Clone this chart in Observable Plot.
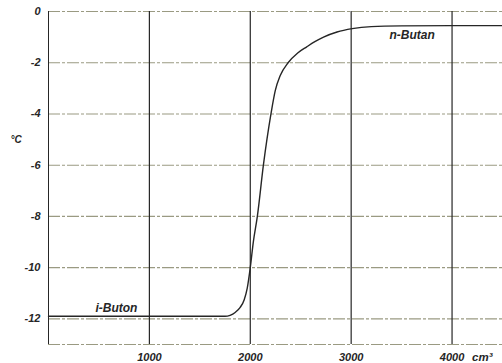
<!DOCTYPE html>
<html>
<head>
<meta charset="utf-8">
<script src="https://cdn.jsdelivr.net/npm/d3@7"></script>
<script src="https://cdn.jsdelivr.net/npm/@observablehq/plot@0.6"></script>
<style>
  html, body { margin: 0; padding: 0; background: #fff; }
  #chart svg { display: block; }
</style>
</head>
<body>
<div id="chart"></div>
<script>
// Volume (cm³) vs temperature (°C)
const volume = [0, 500, 1000, 1500, 1750, 1800, 1850, 1900, 1940, 1970, 2000, 2030, 2070, 2130, 2205, 2247, 2297, 2375, 2470, 2560, 2640, 2726, 2860, 3010, 3200, 3500, 4000, 4500];
const temp   = [-11.9, -11.9, -11.9, -11.9, -11.9, -11.86, -11.75, -11.55, -11.25, -10.8, -10.0, -9.0, -8.0, -6.0, -4.0, -3.1, -2.5, -2.0, -1.62, -1.38, -1.18, -1.0, -0.8, -0.67, -0.59, -0.56, -0.55, -0.55];

const xTicks = [1000, 2000, 3000, 4000];
const yTicks = [0, -2, -4, -6, -8, -10, -12];
const yGrid = [-2, -4, -6, -8, -10, -12];
const curveLabels = ["i-Buton", "n-Butan"];
const labelX = [673, 3604];
const labelY = [-11.58, -0.94];
const xUnit = "cm³";
const yUnit = "°C";

const data = volume.map((v, i) => ({x: v, y: temp[i]}));
const labels = curveLabels.map((t, i) => ({t, x: labelX[i], y: labelY[i]}));

const font = "'Liberation Sans', Arial, sans-serif";
const gridColor = "#9a9a82";
const ink = "#262626";

const chart = Plot.plot({
  width: 502,
  height: 363,
  marginLeft: 48,
  marginRight: 0,
  marginTop: 11,
  marginBottom: 19,
  style: {fontFamily: font, fontStyle: "italic", fontWeight: "bold", fontSize: "11px", color: ink, background: "#fff"},
  x: {domain: [0, 4500], ticks: xTicks, tickSize: 0, tickPadding: 9, label: null, tickFormat: d => String(d)},
  y: {domain: [-13, 0], ticks: yTicks, tickSize: 0, tickPadding: 8, label: null, tickFormat: d => String(d)},
  marks: [
    Plot.ruleY(yGrid, {stroke: gridColor, strokeWidth: 1.1, strokeDasharray: "12,2,3,2"}),
    Plot.ruleY([0, -13], {stroke: gridColor, strokeWidth: 1.1, strokeDasharray: "12,2,3,2"}),
    Plot.ruleX(xTicks, {stroke: ink, strokeWidth: 1.2}),
    Plot.ruleX([0], {stroke: ink, strokeWidth: 1}),
    Plot.line(data, {x: "x", y: "y", stroke: ink, strokeWidth: 1.4, curve: "monotone-x"}),
    Plot.text(labels, {x: "x", y: "y", text: "t", fontSize: 12, fill: ink}),
    Plot.text([xUnit], {x: 4000, y: -13, text: d => d, dx: 20, dy: 13, textAnchor: "start", fontSize: 11.5, fill: ink}),
    Plot.text([yUnit], {x: 0, y: -5, text: d => d, dx: -38, textAnchor: "start", fontSize: 10, fill: ink})
  ]
});
document.getElementById("chart").appendChild(chart);
</script>
</body>
</html>
